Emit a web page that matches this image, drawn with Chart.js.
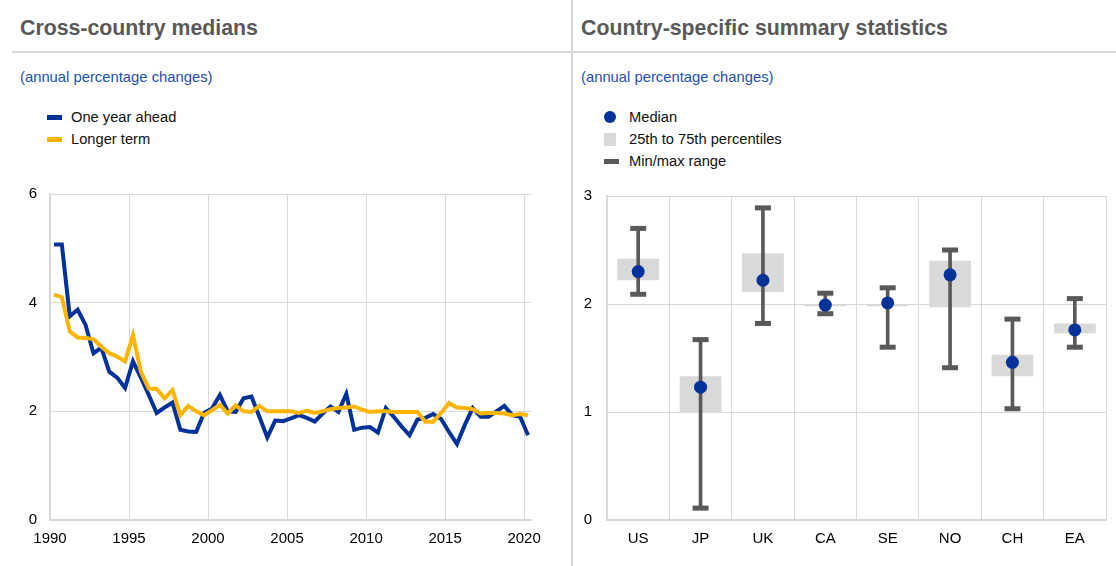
<!DOCTYPE html>
<html>
<head>
<meta charset="utf-8">
<script src="https://cdn.jsdelivr.net/npm/chart.js@4.4.1/dist/chart.umd.min.js"></script>
<style>
  html, body { margin: 0; padding: 0; background: #fff; }
  body { width: 1116px; height: 566px; position: relative; overflow: hidden; font-family: Arial, "Liberation Sans", sans-serif; }
  .title { position: absolute; top: 16px; font-size: 21.3px; font-weight: bold; color: #595959; white-space: nowrap; }
  .sub { position: absolute; top: 69px; font-size: 14.8px; color: #2250b4; white-space: nowrap; }
  .hline { position: absolute; left: 12px; top: 51px; width: 1104px; height: 2px; background: #d9d9d9; }
  .vline { position: absolute; left: 571px; top: 0; width: 2px; height: 566px; background: #d9d9d9; }
  .leg { position: absolute; font-size: 14.7px; color: #111; white-space: nowrap; line-height: 16px; }
  .sw { position: absolute; }
  canvas { position: absolute; }
</style>
</head>
<body>
<div class="hline"></div>
<div class="vline"></div>

<div class="title" style="left:20px">Cross-country medians</div>
<div class="title" style="left:581px">Country-specific summary statistics</div>
<div class="sub" style="left:20px">(annual percentage changes)</div>
<div class="sub" style="left:581px">(annual percentage changes)</div>

<!-- left legend -->
<div class="sw" style="left:47px;top:115px;width:15px;height:5px;background:#003299"></div>
<div class="leg" style="left:71px;top:109px">One year ahead</div>
<div class="sw" style="left:47px;top:137px;width:15px;height:5px;background:#ffb400"></div>
<div class="leg" style="left:71px;top:131px">Longer term</div>

<!-- right legend -->
<div class="sw" style="left:604px;top:111px;width:12px;height:12px;border-radius:50%;background:#003299"></div>
<div class="leg" style="left:629px;top:109px">Median</div>
<div class="sw" style="left:604px;top:133px;width:12px;height:13px;background:#d9d9d9"></div>
<div class="leg" style="left:629px;top:131px">25th to 75th percentiles</div>
<div class="sw" style="left:604px;top:159px;width:15px;height:5px;background:#595959"></div>
<div class="leg" style="left:629px;top:153px">Min/max range</div>

<canvas id="left-chart" width="551" height="394" style="left:0;top:172px;width:551px;height:394px"></canvas>
<canvas id="right-chart" width="559" height="394" style="left:560px;top:172px;width:559px;height:394px"></canvas>

<script>
// survey rounds (spring / autumn), as decimal years
const periods = [
  1990.25, 1990.75, 1991.25, 1991.75, 1992.25, 1992.75, 1993.25, 1993.75, 1994.25, 1994.75,
  1995.25, 1995.75, 1996.25, 1996.75, 1997.25, 1997.75, 1998.25, 1998.75, 1999.25, 1999.75,
  2000.25, 2000.75, 2001.25, 2001.75, 2002.25, 2002.75, 2003.25, 2003.75, 2004.25, 2004.75,
  2005.25, 2005.75, 2006.25, 2006.75, 2007.25, 2007.75, 2008.25, 2008.75, 2009.25, 2009.75,
  2010.25, 2010.75, 2011.25, 2011.75, 2012.25, 2012.75, 2013.25, 2013.75, 2014.25, 2014.75,
  2015.25, 2015.75, 2016.25, 2016.75, 2017.25, 2017.75, 2018.25, 2018.75, 2019.25, 2019.75,
  2020.25
];
const oneYearAhead = [
  5.07, 5.07, 3.75, 3.87, 3.59, 3.07, 3.17, 2.73, 2.62, 2.43,
  2.92, 2.62, 2.30, 1.97, 2.07, 2.16, 1.66, 1.63, 1.62, 1.97,
  2.05, 2.30, 2.00, 1.99, 2.24, 2.27, 1.90, 1.52, 1.83, 1.82,
  1.87, 1.93, 1.88, 1.81, 1.96, 2.09, 1.99, 2.32, 1.66, 1.70,
  1.71, 1.61, 2.06, 1.90, 1.72, 1.56, 1.85, 1.88, 1.95, 1.86,
  1.62, 1.40, 1.75, 2.06, 1.90, 1.90, 2.00, 2.10, 1.93, 1.90,
  1.56
];
const longerTerm = [
  4.15, 4.10, 3.47, 3.36, 3.35, 3.33, 3.19, 3.07, 3.01, 2.92,
  3.40, 2.73, 2.42, 2.41, 2.24, 2.39, 1.93, 2.10, 2.00, 1.93,
  2.02, 2.12, 1.96, 2.11, 2.00, 1.99, 2.10, 2.00, 2.00, 2.00,
  2.00, 1.97, 2.01, 1.97, 2.00, 2.04, 2.06, 2.07, 2.09, 2.03,
  1.99, 2.00, 2.00, 1.99, 1.99, 1.99, 1.99, 1.81, 1.81, 1.97,
  2.15, 2.07, 2.06, 2.04, 1.96, 1.97, 1.97, 1.96, 1.93, 1.95,
  1.93
];
const yearTicks = [1990, 1995, 2000, 2005, 2010, 2015, 2020];

// country summary stats
const countries = ['US', 'JP', 'UK', 'CA', 'SE', 'NO', 'CH', 'EA'];
const medians = [2.30, 1.23, 2.22, 1.99, 2.01, 2.27, 1.46, 1.76];
const p25 = [2.22, 1.00, 2.11, 1.98, 1.98, 1.97, 1.33, 1.73];
const p75 = [2.42, 1.33, 2.47, 2.00, 2.00, 2.40, 1.53, 1.82];
const mins = [2.09, 0.11, 1.82, 1.91, 1.60, 1.41, 1.03, 1.60];
const maxs = [2.70, 1.67, 2.89, 2.10, 2.15, 2.50, 1.86, 2.05];

const BLUE = '#003299';
const YELLOW = '#ffb400';
const GRID = '#d9d9d9';
const DARK = '#595959';
const tickFont = { family: 'Arial, "Liberation Sans", sans-serif', size: 15 };

document.addEventListener('DOMContentLoaded', () => {
  renderMedians();
  renderCountryStats();
});

function renderMedians() {
  const ctx = document.getElementById('left-chart').getContext('2d');
  new Chart(ctx, {
    type: 'line',
    data: {
      datasets: [
        {
          label: 'One year ahead',
          data: periods.map((p, i) => ({ x: p, y: oneYearAhead[i] })),
          borderColor: BLUE, borderWidth: 4, pointRadius: 0, tension: 0, order: 1
        },
        {
          label: 'Longer term',
          data: periods.map((p, i) => ({ x: p, y: longerTerm[i] })),
          borderColor: YELLOW, borderWidth: 4, pointRadius: 0, tension: 0, order: 0
        }
      ]
    },
    options: {
      responsive: false,
      animation: false,
      layout: { padding: { top: 7, right: 15, left: 0, bottom: 0 } },
      plugins: { legend: { display: false }, tooltip: { enabled: false } },
      scales: {
        x: {
          type: 'linear', min: 1990, max: 2020.45,
          afterBuildTicks: s => { s.ticks = yearTicks.map(v => ({ value: v })); },
          afterFit: s => { s.height = 46; },
          ticks: { color: '#000', font: tickFont, padding: 10, maxRotation: 0, callback: v => String(v) },
          grid: { color: GRID, lineWidth: 1, drawTicks: false },
          border: { color: GRID, width: 2 }
        },
        y: {
          min: 0, max: 6,
          afterFit: s => { s.width = 50; },
          ticks: { stepSize: 2, color: '#000', font: tickFont, padding: 13 },
          grid: { color: GRID, lineWidth: 1, drawTicks: false },
          border: { color: GRID, width: 2 }
        }
      }
    }
  });
}

function renderCountryStats() {
  const ctx = document.getElementById('right-chart').getContext('2d');
  new Chart(ctx, {
    type: 'bar',
    data: {
      labels: countries,
      datasets: [
        {
          type: 'line', label: 'Median', data: medians, showLine: false,
          pointStyle: 'circle', pointRadius: 6.5, pointBackgroundColor: BLUE,
          pointBorderColor: BLUE, pointBorderWidth: 0, order: 0
        },
        {
          type: 'line', label: 'max', data: maxs, showLine: false,
          pointStyle: 'line', pointRadius: 8, pointBorderColor: DARK, pointBorderWidth: 5, order: 1
        },
        {
          type: 'line', label: 'min', data: mins, showLine: false,
          pointStyle: 'line', pointRadius: 8, pointBorderColor: DARK, pointBorderWidth: 5, order: 1
        },
        {
          label: 'Min/max range', data: countries.map((c, i) => [mins[i], maxs[i]]),
          backgroundColor: DARK, barThickness: 3, grouped: false, order: 2
        },
        {
          label: '25th to 75th percentiles', data: countries.map((c, i) => [p25[i], p75[i]]),
          backgroundColor: GRID, categoryPercentage: 1, barPercentage: 0.67, grouped: false, order: 3
        }
      ]
    },
    options: {
      responsive: false,
      animation: false,
      layout: { padding: { top: 7, right: 0, left: 0, bottom: 0 } },
      plugins: { legend: { display: false }, tooltip: { enabled: false } },
      scales: {
        x: {
          afterFit: s => { s.height = 46; },
          ticks: { color: '#000', font: tickFont, padding: 10, maxRotation: 0 },
          grid: { color: GRID, lineWidth: 1, drawTicks: false },
          border: { color: GRID, width: 2 }
        },
        y: {
          min: 0, max: 3,
          afterFit: s => { s.width = 47; },
          ticks: { stepSize: 1, color: '#000', font: tickFont, padding: 15 },
          grid: { color: GRID, lineWidth: 1, drawTicks: false },
          border: { color: GRID, width: 2 }
        }
      }
    }
  });
}
</script>
</body>
</html>
